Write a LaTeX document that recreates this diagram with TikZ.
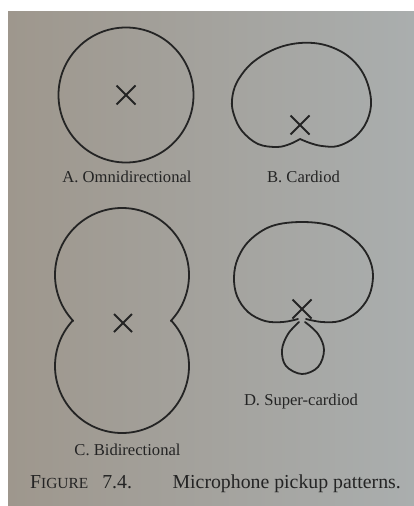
\documentclass[tikz,border=0pt]{standalone}
\usepackage{fontspec}
\setmainfont{Liberation Serif}
\usetikzlibrary{calc}
\definecolor{ink}{RGB}{36,36,36}
\definecolor{pgL}{RGB}{158,151,141}
\definecolor{pgM}{RGB}{182,180,175}
\definecolor{pgR}{RGB}{170,174,174}
\begin{document}
\begin{tikzpicture}[x=1pt,y=-1pt,
  curve/.style={draw=ink,line width=1.8pt,line join=round,line cap=round},
  mark x/.style={draw=ink,line width=1.8pt},
  lbl/.style={text=ink,anchor=base,inner sep=0pt,font=\fontsize{16.6}{19}\selectfont},
  captext/.style={text=ink,anchor=base west,inner sep=0pt,font=\fontsize{19.8}{23}\selectfont}]
\useasboundingbox (0,0) rectangle (414,506);
\fill[white] (0,0) rectangle (414,506);
\shade[left color=pgL,middle color=pgM,right color=pgR] (8,11) rectangle (414,506);
% A omnidirectional
\coordinate (xa) at (126,95);
\draw[curve] (xa) circle[radius=67.5];
\draw[mark x] ($(xa)+(-9.5,-9.5)$) -- ($(xa)+(9.5,9.5)$) ($(xa)+(-9.5,9.5)$) -- ($(xa)+(9.5,-9.5)$);
\node[lbl] (la) at (127,182) {A. Omnidirectional};
% B cardioid
\coordinate (xb) at (300,125);
\draw[curve] plot[smooth,tension=0.6] coordinates {(300,139) (290,144) (277,147) (258,144) (242,131) (234,115) (232,100) (237,82) (252,63) (275,49) (300,43) (325,45) (348,56) (364,75) (371,100) (367,121) (355,137) (338,146) (322,146) (310,143) (300,139)};
\draw[mark x] ($(xb)+(-9.5,-9.5)$) -- ($(xb)+(9.5,9.5)$) ($(xb)+(-9.5,9.5)$) -- ($(xb)+(9.5,-9.5)$);
\node[lbl] (lb) at (303.5,182) {B. Cardiod};
% C bidirectional
\coordinate (xc) at (123,323);
\draw[curve] plot[domain=136.7:403.3,samples=120] ({122+67*cos(\x)},{275+67*sin(\x)})
  -- plot[domain=-42.6:222.6,samples=120] ({122+67*cos(\x)},{366+67*sin(\x)}) -- cycle;
\draw[mark x] ($(xc)+(-9,-9)$) -- ($(xc)+(9,9)$) ($(xc)+(-9,9)$) -- ($(xc)+(9,-9)$);
\node[lbl] (lc) at (127.5,455) {C. Bidirectional};
% D super-cardioid
\coordinate (xd) at (302,309);
\draw[curve] plot[smooth,tension=0.6] coordinates {(298,319) (283,322) (265,321) (248,312) (237,296) (234,277) (238,258) (250,240) (272,226) (302,222) (332,226) (355,240) (368,256) (373,275) (369,296) (357,312) (340,321) (322,322) (306,319)};
\draw[curve] plot[smooth,tension=0.6] coordinates {(299,322) (288,334) (282,350) (286,366) (302,374) (318,367) (324,350) (318,334) (305,322)};
\draw[mark x] ($(xd)+(-9.5,-9.5)$) -- ($(xd)+(9.5,9.5)$) ($(xd)+(-9.5,9.5)$) -- ($(xd)+(9.5,-9.5)$);
\node[lbl] (ld) at (301,405) {D. Super-cardiod};
% caption
\node[captext] (cap1) at (30,488) {F{\fontsize{15.4}{18}\selectfont IGURE}\hspace{14pt}7.4.};
\node[captext,anchor=base east] (cap2) at (401,488) {Microphone pickup patterns.};
\end{tikzpicture}
\end{document}
